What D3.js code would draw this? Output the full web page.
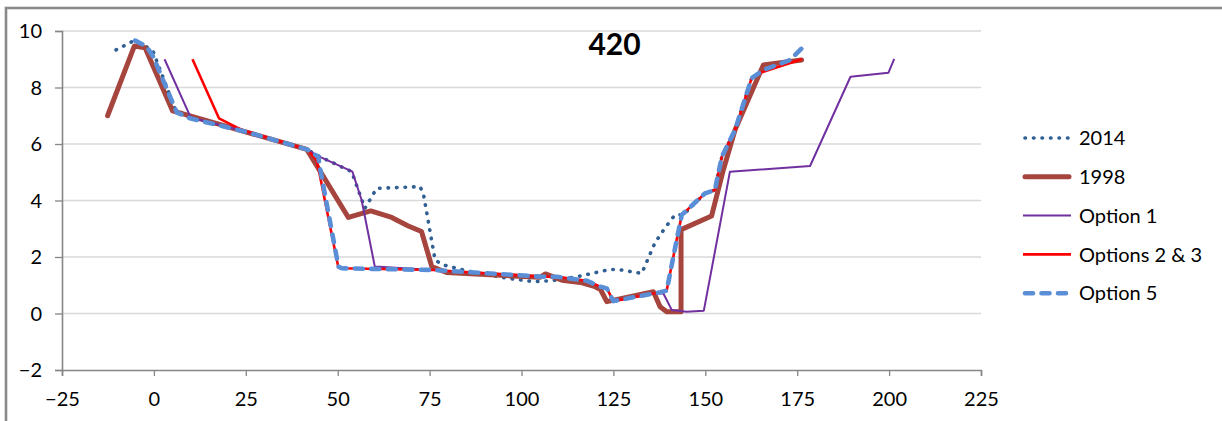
<!DOCTYPE html>
<html>
<head>
<meta charset="utf-8">
<script src="https://cdn.jsdelivr.net/npm/d3@7"></script>
<style>
  body { margin: 0; background: #fff; }
  svg { display: block; font-family: Lato, "Open Sans", sans-serif; }
</style>
</head>
<body>
<div id="chart"></div>
<script>
// chart values
const title = "420";
const xTicks = [-25, 0, 25, 50, 75, 100, 125, 150, 175, 200, 225];
const yTicks = [-2, 0, 2, 4, 6, 8, 10];

const s2014 = [
  [-10.3, 9.33], [-6.0, 9.62], [-3.3, 9.56], [-0.2, 9.27], [5.7, 7.26],
  [9.8, 6.91], [24.8, 6.44], [41.6, 5.81], [44.7, 5.58], [53.8, 5.02],
  [57.4, 3.72], [60.6, 4.43], [72.4, 4.49], [73.3, 4.25], [76.5, 1.89],
  [78.7, 1.72], [85.1, 1.51], [96.0, 1.25], [103.2, 1.13], [108.2, 1.16],
  [115.0, 1.30], [124.1, 1.56], [126.3, 1.56], [132.7, 1.42], [136.3, 2.5],
  [139.0, 3.02], [141.8, 3.50], [144.0, 3.49], [149.9, 4.25], [152.6, 4.37],
  [154.5, 5.55], [158.1, 6.50], [162.6, 8.33], [165.8, 8.62], [173.0, 8.97],
  [176.5, 9.42]
];

const s1998 = [
  [-12.6, 7.0], [-5.3, 9.47], [-2.4, 9.41], [5.1, 7.17], [41.6, 5.81],
  [52.9, 3.40], [59.0, 3.63], [64.7, 3.40], [69.2, 3.10], [72.8, 2.90],
  [75.6, 1.66], [79.6, 1.45], [105.0, 1.28], [106.5, 1.40], [111.0, 1.18],
  [116.0, 1.10], [120.0, 0.95], [121.5, 0.85], [123.2, 0.42], [135.9, 0.77],
  [137.7, 0.24], [139.5, 0.06], [143.4, 0.06], [143.4, 2.97], [151.7, 3.45],
  [154.9, 5.08], [158.1, 6.50], [165.8, 8.80], [176.2, 8.97]
];

const option1 = [
  [2.9, 9.0], [10.0, 6.94], [24.8, 6.44], [41.6, 5.81], [44.7, 5.57],
  [54.0, 5.02], [56.5, 4.02], [60.1, 1.66], [76.0, 1.54], [105.9, 1.30],
  [109.6, 1.30], [117.7, 1.16], [121.4, 0.95], [123.2, 0.89], [125.0, 0.44],
  [136.3, 0.72], [138.6, 0.71], [140.9, 0.12], [144.9, 0.06], [149.6, 0.10],
  [156.7, 5.02], [178.5, 5.22], [189.5, 8.38], [199.8, 8.52], [201.4, 9.01]
];

const options23 = [
  [10.5, 9.0], [17.7, 6.91], [23.9, 6.50], [41.6, 5.81], [44.3, 5.43],
  [50.2, 1.62], [51.1, 1.60], [76.0, 1.54], [105.9, 1.30], [109.6, 1.30],
  [117.7, 1.16], [121.4, 0.95], [123.2, 0.89], [125.0, 0.44], [137.7, 0.75],
  [139.5, 0.81], [142.2, 2.6], [143.6, 3.49], [149.9, 4.25], [152.6, 4.37],
  [154.5, 5.55], [158.1, 6.50], [162.6, 8.33], [165.8, 8.56], [176.2, 9.0]
];

const option5 = [
  [-5.1, 9.66], [-2.0, 9.45], [-0.2, 9.09], [6.2, 7.12], [9.8, 6.91],
  [24.8, 6.44], [41.6, 5.81], [44.7, 5.55], [45.2, 5.14], [50.2, 1.66],
  [51.1, 1.60], [76.0, 1.54], [105.9, 1.30], [109.6, 1.30], [117.7, 1.16],
  [121.4, 0.95], [123.2, 0.89], [125.0, 0.44], [137.7, 0.75], [139.5, 0.81],
  [142.2, 2.6], [143.6, 3.49], [149.9, 4.25], [152.6, 4.37], [154.5, 5.55],
  [158.1, 6.50], [162.6, 8.33], [165.8, 8.62], [173.0, 8.97], [176.5, 9.42]
];

const seriesNames = ["2014", "1998", "Option 1", "Options 2 & 3", "Option 5"];
const seriesData = [s2014, s1998, option1, options23, option5];

const width = 1222, height = 421;
const plot = { left: 62, right: 981, top: 31, bottom: 370 };

const styles = [
  { color: "#2F5F93", width: 3.6, dash: "0.5,8", cap: "round" },
  { color: "#A6443E", width: 5, dash: null, cap: "round" },
  { color: "#7030A0", width: 2, dash: null, cap: "butt" },
  { color: "#FF0000", width: 2.6, dash: null, cap: "butt" },
  { color: "#5A8FD7", width: 4.6, dash: "8,8.5", cap: "round" }
];

const svg = d3.select("#chart").append("svg")
  .attr("width", width)
  .attr("height", height);

// outer frame (runs off the right and bottom edges)
svg.append("rect")
  .attr("x", 6).attr("y", 8)
  .attr("width", width + 20).attr("height", height + 20)
  .attr("fill", "#fff")
  .attr("stroke", "#8A8A8A")
  .attr("stroke-width", 2.6);

const x = d3.scaleLinear().domain([-25, 225]).range([plot.left, plot.right]);
const y = d3.scaleLinear().domain([-2, 10]).range([plot.bottom, plot.top]);

// gridlines
svg.append("g")
  .selectAll("line")
  .data(yTicks.filter(d => d !== -2))
  .enter().append("line")
  .attr("x1", plot.left).attr("x2", plot.right)
  .attr("y1", d => y(d)).attr("y2", d => y(d))
  .attr("stroke", "#D9D9D9")
  .attr("stroke-width", 1.3);

// axes
const xAxis = svg.append("g")
  .attr("transform", `translate(0,${plot.bottom})`)
  .call(d3.axisBottom(x).tickValues(xTicks).tickSize(6).tickPadding(16));

const yAxis = svg.append("g")
  .attr("transform", `translate(${plot.left},0)`)
  .call(d3.axisLeft(y).tickValues(yTicks).tickSize(7).tickPadding(13));

[xAxis, yAxis].forEach(ax => {
  ax.select(".domain").attr("stroke", "#868686").attr("stroke-width", 1.6);
  ax.selectAll(".tick line").attr("stroke", "#868686").attr("stroke-width", 1.3);
  ax.selectAll("text")
    .attr("fill", "#000")
    .style("font-size", "20px")
    .style("font-family", "Lato, sans-serif");
});
yAxis.selectAll("text").attr("dy", "0.34em");

// series lines
const line = d3.line().x(d => x(d[0])).y(d => y(d[1]));

svg.append("g")
  .selectAll("path")
  .data(seriesData)
  .enter().append("path")
  .attr("d", line)
  .attr("fill", "none")
  .attr("stroke", (d, i) => styles[i].color)
  .attr("stroke-width", (d, i) => styles[i].width)
  .attr("stroke-dasharray", (d, i) => styles[i].dash)
  .attr("stroke-linecap", (d, i) => styles[i].cap)
  .attr("stroke-linejoin", "round");

// title
svg.append("text")
  .attr("x", 614.5).attr("y", 55)
  .attr("text-anchor", "middle")
  .style("font-size", "30px")
  .style("font-weight", "bold")
  .text(title);

// legend
const legend = svg.append("g")
  .selectAll("g")
  .data(seriesNames)
  .enter().append("g")
  .attr("transform", (d, i) => `translate(1023,${138 + i * 38.8})`);

legend.append("line")
  .attr("x1", (d, i) => styles[i].cap === "round" ? 2 : 0)
  .attr("x2", (d, i) => styles[i].cap === "round" ? 46 : 48)
  .attr("stroke", (d, i) => styles[i].color)
  .attr("stroke-width", (d, i) => styles[i].width)
  .attr("stroke-dasharray", (d, i) => styles[i].dash)
  .attr("stroke-linecap", (d, i) => styles[i].cap);

legend.append("text")
  .attr("x", 56)
  .attr("dy", "0.36em")
  .style("font-size", "20px")
  .text(d => d);
</script>
</body>
</html>
